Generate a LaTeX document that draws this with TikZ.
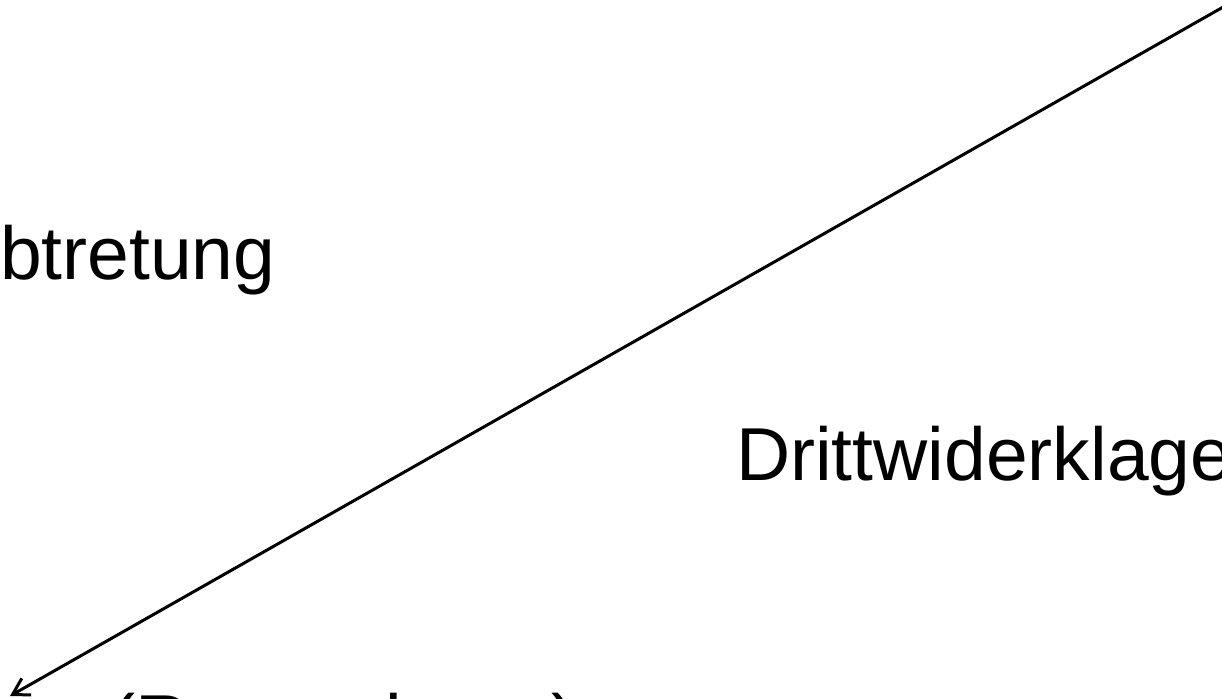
\documentclass[tikz,border=0pt]{standalone}
\usepackage{fontspec}
\setmainfont{Liberation Sans}
\usetikzlibrary{arrows.meta}

\begin{document}
\begin{tikzpicture}[x=1pt, y=-1pt,
    term/.style={font=\fontsize{75}{90}\selectfont, inner sep=0pt, anchor=base west},
    link/.style={line width=3pt, -{Straight Barb[length=16pt, width=19pt, line width=3pt]}}]
    % Frame of the cropped slide
    \useasboundingbox (0,0) rectangle (1222,698);
    \clip (0,0) rectangle (1222,698);

    % Labels
    \node[term] (abtretung) at (-50,279) {Abtretung};
    \node[term] (widerklage) at (736,480) {Drittwiderklage};
    \node[term] (partei) at (110,747) {(Rezessionar)};

    % Arrow
    \coordinate (oben) at (1232,2);
    \coordinate (unten) at (10,696);
    \draw[link] (oben) -- (unten);
\end{tikzpicture}
\end{document}
